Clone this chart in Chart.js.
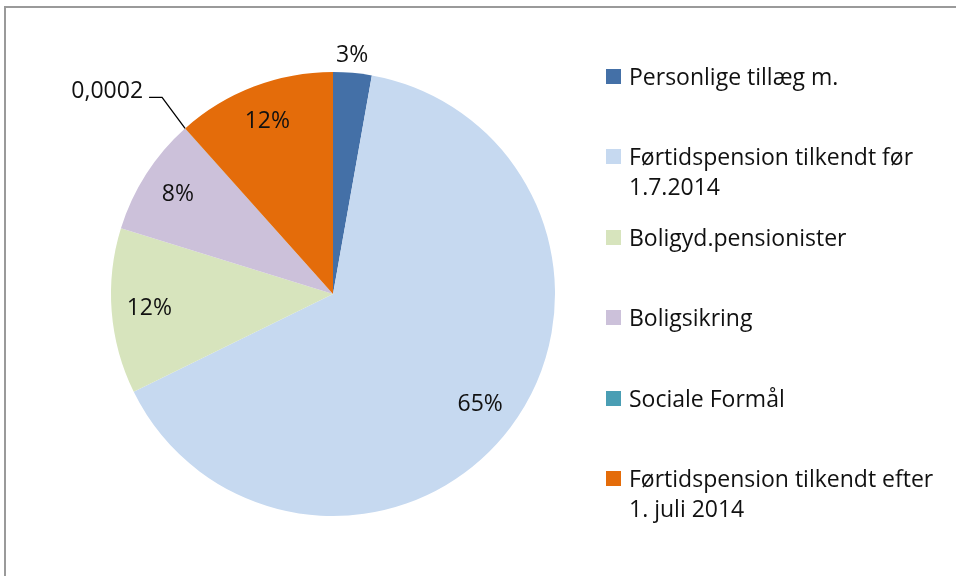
<!doctype html>
<html lang="da">
<head>
  <meta charset="UTF-8" />
  <script src="https://cdn.jsdelivr.net/npm/chart.js"></script>
  <style>
    html, body { margin: 0; padding: 0; background: #fff; }
    body { width: 956px; height: 576px; position: relative; overflow: hidden; font-family: "Open Sans", sans-serif; }
    #frame { position: absolute; left: 4px; top: 6px; width: 1000px; height: 700px; border: 2px solid #9a9a9a; box-sizing: border-box; }
    #wrap { position: absolute; left: 0; top: 0; width: 956px; height: 576px; }
    #legend { position: absolute; left: 0; top: 0; }
    .item { position: absolute; left: 606px; width: 345px; }
    .box { position: absolute; left: 0; top: 0; width: 15px; height: 15px; }
    .txt { position: absolute; left: 23px; top: -8px; width: 318px; font-size: 23px; line-height: 30px; color: #111; }
  </style>
</head>
<body>
  <div id="frame"></div>
  <div id="wrap"><canvas id="pie" width="956" height="576"></canvas></div>
  <div id="legend"></div>

  <script>
    const labels = [
      "Personlige tillæg m.",
      "Førtidspension tilkendt før 1.7.2014",
      "Boligyd.pensionister",
      "Boligsikring",
      "Sociale Formål",
      "Førtidspension tilkendt efter 1. juli 2014"
    ];
    const shares = [0.028, 0.6495, 0.1205, 0.086, 0.0002, 0.116];
    const valueLabels = ["3%", "65%", "12%", "8%", "0,0002", "12%"];
    const colors = ["#4470A7", "#C6D9F0", "#D7E4BD", "#CCC1DA", "#4A9EB4", "#E46C0A"];

    // legend, built from the labels
    const legend = document.getElementById("legend");
    labels.forEach((l, i) => {
      const el = document.createElement("div");
      el.className = "item";
      el.style.top = (69 + i * 80.4) + "px";
      el.innerHTML = `<div class="box" style="background:${colors[i]}"></div><div class="txt">${l}</div>`;
      legend.appendChild(el);
    });

    const sliceLabels = {
      id: "sliceLabels",
      afterDatasetsDraw(chart) {
        const c = chart.ctx;
        const arcs = chart.getDatasetMeta(0).data;
        c.save();
        c.font = "23px 'Open Sans'";
        c.fillStyle = "#111";
        c.textBaseline = "middle";
        arcs.forEach((arc, i) => {
          const p = arc.getProps(["x", "y", "startAngle", "endAngle", "outerRadius"], true);
          const mid = (p.startAngle + p.endAngle) / 2;
          const cos = Math.cos(mid), sin = Math.sin(mid);
          if (i === 0) {
            // small slice: label outside
            const d = p.outerRadius + 19;
            c.textAlign = "center";
            c.fillText(valueLabels[i], p.x + cos * d - 2, p.y + sin * d + 2);
          } else if (i === 4) {
            // tiny slice: leader line
            const ex = p.x + cos * p.outerRadius, ey = p.y + sin * p.outerRadius;
            const kx = ex - 23, ky = ey - 31;
            c.strokeStyle = "#000";
            c.lineWidth = 1.3;
            c.beginPath();
            c.moveTo(ex, ey);
            c.lineTo(kx, ky);
            c.lineTo(kx - 13, ky);
            c.stroke();
            c.textAlign = "right";
            c.fillText(valueLabels[i], kx - 19, ky - 6);
          } else {
            const d = p.outerRadius * 0.83;
            c.textAlign = "center";
            c.fillText(valueLabels[i], p.x + cos * d, p.y + sin * d);
          }
        });
        c.restore();
      }
    };

    function draw() {
      new Chart(document.getElementById("pie"), {
        type: "pie",
        data: {
          labels: labels,
          datasets: [{
            data: shares,
            backgroundColor: colors,
            borderWidth: 0
          }]
        },
        options: {
          responsive: false,
          animation: false,
          layout: { padding: { left: 111, right: 401, top: 72, bottom: 60 } },
          plugins: {
            legend: { display: false },
            tooltip: { enabled: false }
          }
        },
        plugins: [sliceLabels]
      });
    }

    document.fonts.load("23px 'Open Sans'").then(draw, draw);
  </script>
</body>
</html>
